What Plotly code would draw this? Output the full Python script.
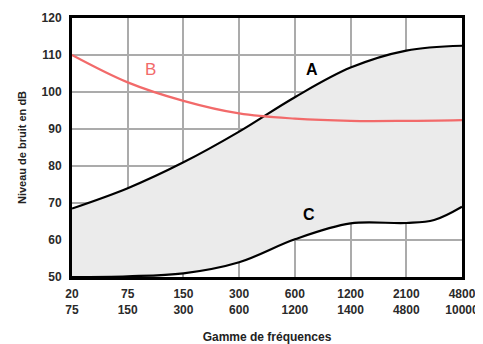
import plotly.graph_objects as go

# frequency bands (two rows per tick)
tick_labels = ["20<br>75", "75<br>150", "150<br>300", "300<br>600",
               "600<br>1200", "1200<br>1400", "2100<br>4800", "4800<br>10000"]
band_pos = [0, 1, 2, 3, 4, 5, 6, 7]

# curve A (upper limit)
a_x = [0, 1, 2, 3, 4, 5, 6, 7]
a_y = [68.5, 74, 81, 89.3, 98.6, 106.6, 111.2, 112.5]

# curve B (red)
b_x = [0, 1, 2, 3, 4, 5, 6, 7]
b_y = [110, 102.6, 97.6, 94.2, 92.8, 92.2, 92.2, 92.4]

# curve C (lower limit)
c_x = [0, 1, 2, 3, 4, 5, 6, 6.5, 7]
c_y = [50, 50.2, 51, 54, 60.2, 64.5, 64.6, 65.4, 69]

FONT = "Liberation Sans, Arial, sans-serif"

fig = go.Figure()
fig.add_trace(go.Scatter(x=c_x, y=c_y, mode="lines", line=dict(color="black", width=2.2, shape="spline"),
                         showlegend=False, hoverinfo="skip"))
fig.add_trace(go.Scatter(x=a_x, y=a_y, mode="lines", line=dict(color="black", width=2.2, shape="spline"),
                         fill="tonexty", fillcolor="#ebebeb",
                         showlegend=False, hoverinfo="skip"))
fig.add_trace(go.Scatter(x=b_x, y=b_y, mode="lines", line=dict(color="#f26a6a", width=2.2, shape="spline"),
                         showlegend=False, hoverinfo="skip"))

fig.add_annotation(x=4.3, y=106.2, text="<b>A</b>", showarrow=False,
                   font=dict(family=FONT, size=16, color="black"))
fig.add_annotation(x=1.4, y=106.2, text="B", showarrow=False,
                   font=dict(family=FONT, size=17, color="#f26a6a"))
fig.add_annotation(x=4.25, y=66.8, text="<b>C</b>", showarrow=False,
                   font=dict(family=FONT, size=16, color="black"))

fig.update_xaxes(range=[0, 7], tickvals=band_pos, ticktext=tick_labels,
                 showgrid=True, gridcolor="#ababab", gridwidth=2,
                 showline=True, linecolor="black", linewidth=3, mirror=True,
                 ticks="", zeroline=False, automargin=False,
                 ticklabelstandoff=4,
                 tickfont=dict(family=FONT, size=12, color="#2a2a2a", weight="bold"),
                 title=dict(text="<b>Gamme de fréquences</b>", standoff=17,
                            font=dict(family=FONT, size=12, color="#222")))
fig.update_yaxes(range=[50, 120], dtick=10,
                 showgrid=True, gridcolor="#ababab", gridwidth=2,
                 showline=True, linecolor="black", linewidth=3, mirror=True,
                 ticks="", zeroline=False, automargin=False,
                 ticklabelstandoff=5,
                 tickfont=dict(family=FONT, size=12, color="#2a2a2a", weight="bold"),
                 title=dict(text="<b>Niveau de bruit en dB</b>", standoff=13,
                            font=dict(family=FONT, size=11, color="#222")))

# page body adds an 8px offset, so the figure is sized to fit the window
fig.update_layout(width=475, height=336,
                  margin=dict(l=64, r=21, t=10, b=67),
                  plot_bgcolor="white", paper_bgcolor="white")

fig.write_html("out.html")
